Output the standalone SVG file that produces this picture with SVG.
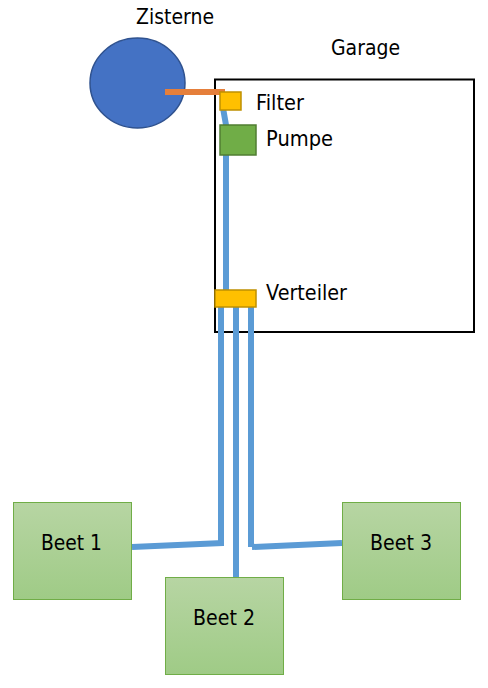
<svg xmlns="http://www.w3.org/2000/svg" width="488" height="688" viewBox="0 0 488 688">
<style>
text{font-family:"DejaVu Sans","Liberation Sans",sans-serif;font-size:21px;fill:#000}
.pipe{fill:none;stroke:#5b9bd5;stroke-width:6}
.bed{fill:url(#g);stroke:#70ad47;stroke-width:1}
.yel{fill:#ffc000;stroke:#bf9000;stroke-width:1.5}
</style>
<defs><linearGradient id="g" x1="0" y1="0" x2="0" y2="1"><stop offset="0" stop-color="#b7d5a3"/><stop offset="1" stop-color="#9fcb86"/></linearGradient></defs>
<rect width="488" height="688" fill="#fff"/>
<g id="garage"><rect x="215" y="79.500" width="259" height="252.500" fill="none" stroke="#000" stroke-width="2"/><text x="331" y="55" textLength="69" lengthAdjust="spacingAndGlyphs">Garage</text></g>
<g id="connectors">
<path class="pipe" d="M223 108L226 125V290"/>
<path class="pipe" d="M221 307V546M132 547L223 543"/>
<path class="pipe" d="M236 307V578"/>
<path class="pipe" d="M251 307V547M252 547L342 543"/>
</g>
<g id="zisterne"><ellipse cx="137.500" cy="83" rx="47.500" ry="45" fill="#4472c4" stroke="#2f528f" stroke-width="1.500"/><text x="136" y="24" textLength="78" lengthAdjust="spacingAndGlyphs">Zisterne</text></g>
<path d="M165 92H225" fill="none" stroke="#e57f3b" stroke-width="6"/>
<g id="filter"><rect class="yel" x="220" y="92" width="21" height="18"/><text x="256" y="110" textLength="48" lengthAdjust="spacingAndGlyphs">Filter</text></g>
<g id="pumpe"><rect x="220" y="125" width="36" height="30" fill="#70ad47" stroke="#507e32" stroke-width="1.500"/><text x="266" y="146" textLength="67" lengthAdjust="spacingAndGlyphs">Pumpe</text></g>
<g id="verteiler"><rect class="yel" x="215" y="290" width="41" height="17"/><text x="266" y="300" textLength="81" lengthAdjust="spacingAndGlyphs">Verteiler</text></g>
<g id="beet1"><rect class="bed" x="13.500" y="502.500" width="118" height="97"/><text x="41" y="549.500" textLength="61" lengthAdjust="spacingAndGlyphs">Beet 1</text></g>
<g id="beet2"><rect class="bed" x="165.500" y="577.500" width="118" height="97"/><text x="193" y="624.500" textLength="62" lengthAdjust="spacingAndGlyphs">Beet 2</text></g>
<g id="beet3"><rect class="bed" x="342.500" y="502.500" width="118" height="97"/><text x="370" y="549.500" textLength="62" lengthAdjust="spacingAndGlyphs">Beet 3</text></g>
</svg>
